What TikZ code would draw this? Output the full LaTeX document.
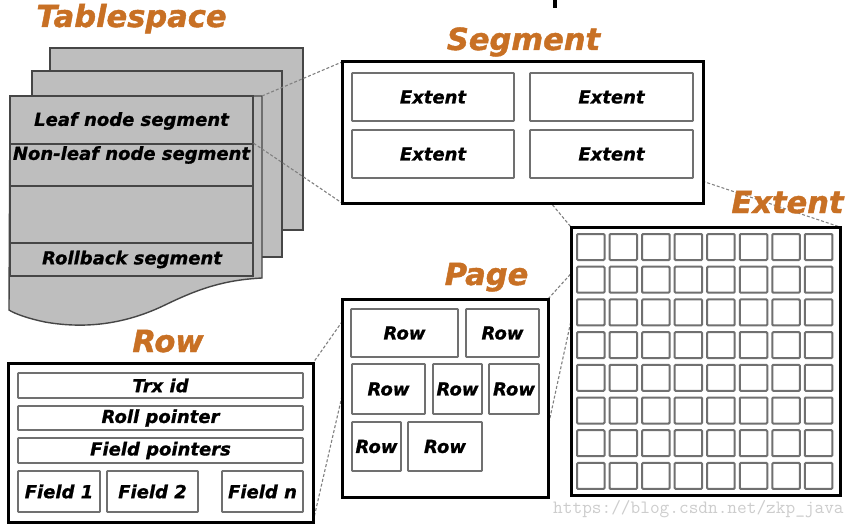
\documentclass[tikz,border=0pt]{standalone}
\usepackage{fontspec}
\newfontfamily\dv{DejaVu Sans}[BoldItalicFeatures={FakeBold=0.9}]
\newfontfamily\dvt{DejaVu Sans}[BoldItalicFeatures={FakeBold=1.4}]
\usetikzlibrary{calc}
\definecolor{ttl}{RGB}{200,112,36}
\definecolor{sheet}{RGB}{190,190,190}
\definecolor{sheetline}{RGB}{70,70,70}
\definecolor{inner}{RGB}{112,112,112}
\definecolor{dashc}{RGB}{128,128,128}
\definecolor{wmc}{RGB}{205,205,205}
\newcommand{\lbl}{\dv\bfseries\itshape\fontsize{18}{20}\selectfont}
\newcommand{\ttlfont}{\dvt\bfseries\itshape\fontsize{30.5}{32}\selectfont}
\newcommand{\rbox}[7]{\node[#1, minimum width={(#5)-(#3)}, minimum height={(#6)-(#4)}] (#2) at ({((#3)+(#5))/2},{((#4)+(#6))/2}) {#7};}
\begin{document}
\begin{tikzpicture}[x=1pt,y=-1pt,
  outerbox/.style={draw=black, line width=3pt, fill=white, inner sep=0pt},
  inbox/.style={draw=inner, line width=1.9pt, fill=white, inner sep=0pt, font=\lbl, text=black, rounded corners=0.8pt},
  segbox/.style={draw=sheetline, line width=1.4pt, fill=sheet, inner sep=0pt, font=\lbl, text=black},
  sheetbox/.style={draw=sheetline, line width=1.4pt, fill=sheet},
  cell/.style={draw=inner, line width=2pt, fill=white, rounded corners=1pt, minimum width=27.5pt, minimum height=26pt, inner sep=0pt},
  title/.style={text=ttl, font=\ttlfont, inner sep=0pt, anchor=base},
  lbltext/.style={font=\lbl, text=black, inner sep=0pt},
  conn/.style={draw=dashc, line width=1.1pt, dash pattern=on 3pt off 2pt}]
\useasboundingbox (0,0) rectangle (864,527);
\fill[white] (0,0) rectangle (864,527);

% fragment at top
\fill[black] (553,0) rectangle (557,8);

% ---- Tablespace sheets ----
\path[sheetbox] (50,48) rectangle (303,230);
\path[sheetbox] (32,71) rectangle (282,257);
\path[sheetbox] (10,96) -- (262,96) -- (262,278)
  .. controls (225,280) and (200,288) .. (165,305)
  .. controls (130,322) and (90,330) .. (45,322)
  .. controls (30,319) and (15,314) .. (9,310) -- cycle;
\coordinate (fronttr) at (262,96);
\draw[draw=sheetline, line width=1.4pt] (10,96) rectangle (253,276);
\rbox{segbox}{leaf}{10}{96}{253}{144}{}
\rbox{segbox}{nonleaf}{10}{144}{253}{186}{}
\rbox{segbox}{rollback}{10}{243}{253}{276}{}
\node[lbltext] (leaftext) at (131.5,121) {Leaf node segment};
\node[lbltext] (nltext) at (131.5,155) {Non-leaf node segment};
\node[lbltext] (rbtext) at (132,259.5) {Rollback segment};

% ---- connector endpoints ----
\coordinate (segnw) at (342,62);
\coordinate (segsw) at (342,203);
\coordinate (e4sw) at (530,178);
\coordinate (e4se) at (693,178);
\coordinate (ebnw) at (571,227);
\coordinate (ebne) at (840,227);
\coordinate (cellnw) at (577,267);
\coordinate (cellsw) at (577,293);
\coordinate (pagene) at (548,299);
\coordinate (pageend) at (548,427);
\coordinate (prnw) at (351,309);
\coordinate (prsw) at (351,357);
\coordinate (rowne) at (313,363);
\coordinate (rowse) at (313,522);

% ---- dashed connectors ----
\draw[conn] (fronttr) -- (segnw);
\draw[conn] (nonleaf.north east) -- (segsw);
\draw[conn] (e4sw) -- (ebnw);
\draw[conn] (e4se) -- (ebne);
\draw[conn] (cellnw) -- (pagene);
\draw[conn] (cellsw) -- (pageend);
\draw[conn] (prnw) -- (rowne);
\draw[conn] (prsw) -- (rowse);

% ---- Segment ----
\rbox{outerbox}{seg}{342}{62}{703}{203}{}
\rbox{inbox}{ext1}{352}{73}{514}{121}{Extent}
\rbox{inbox}{ext2}{530}{73}{693}{121}{Extent}
\rbox{inbox}{ext3}{352}{130}{514}{178}{Extent}
\rbox{inbox}{ext4}{530}{130}{693}{178}{Extent}

% ---- Extent grid ----
\rbox{outerbox}{ebox}{571}{227}{840}{495}{}
\foreach \i in {1,...,8}{
  \foreach \j in {1,...,8}{
    \node[cell] (g-\i-\j) at ({577+13.75+(\i-1)*32.55},{234+13+(\j-1)*32.7}) {};
  }
}

% ---- Page ----
\rbox{outerbox}{page}{342}{299}{548}{497}{}
\rbox{inbox}{prow1}{351}{309}{458}{357}{Row}
\rbox{inbox}{prow2}{466}{309}{539}{357}{Row}
\rbox{inbox}{prow3}{352}{364}{425}{414}{Row}
\rbox{inbox}{prow4}{433}{364}{482}{414}{Row}
\rbox{inbox}{prow5}{489}{364}{539}{414}{Row}
\rbox{inbox}{prow6}{352}{422}{401}{471}{Row}
\rbox{inbox}{prow7}{408}{422}{482}{471}{Row}

% ---- Row ----
\rbox{outerbox}{rowbox}{8}{363}{313}{522}{}
\rbox{inbox}{trx}{18}{373}{303}{398}{Trx id}
\rbox{inbox}{roll}{18}{406}{303}{430}{Roll pointer}
\rbox{inbox}{fptr}{18}{438}{303}{463}{Field pointers}
\rbox{inbox}{f1}{18}{471}{100}{512}{Field 1}
\rbox{inbox}{f2}{107}{471}{198}{512}{Field 2}
\rbox{inbox}{fn}{222}{471}{303}{512}{Field n}

% ---- titles ----
\node[title] (tTablespace) at (131.5,27) {Tablespace};
\node[title] (tSegment) at (523.5,50) {Segment};
\node[title] (tExtent) at (787.5,213) {Extent};
\node[title] (tPage) at (486.5,285) {Page};
\node[title] (tRow) at (168,352) {Row};

% ---- watermark ----
\node[anchor=base west, text=wmc, font=\ttfamily\fontsize{18.8}{20}\selectfont, inner sep=0pt] (wm) at (553,513) {https://blog.csdn.net/zkp\_java};
\end{tikzpicture}
\end{document}
